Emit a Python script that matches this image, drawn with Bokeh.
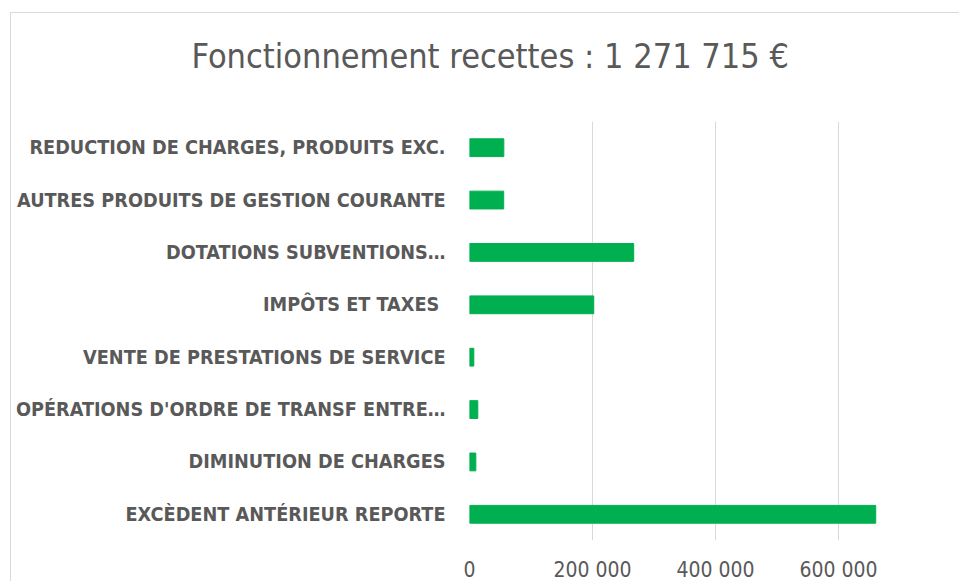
from bokeh.plotting import figure
from bokeh.models import ColumnDataSource, FixedTicker, Range1d, Title
from bokeh.embed import file_html
from bokeh.resources import INLINE

# data (top-to-bottom order as displayed)
categories = [
    "REDUCTION DE CHARGES, PRODUITS EXC.",
    "AUTRES PRODUITS DE GESTION COURANTE",
    "DOTATIONS SUBVENTIONS\u2026",
    "IMP\u00d4TS  ET TAXES",
    "VENTE DE PRESTATIONS DE SERVICE",
    "OP\u00c9RATIONS D'ORDRE DE TRANSF ENTRE\u2026",
    "DIMINUTION DE CHARGES",
    "EXC\u00c8DENT ANT\u00c9RIEUR REPORTE",
]
values = [55800, 55600, 267000, 202000, 7000, 13500, 10300, 660500]
x_ticks = [0, 200000, 400000, 600000]
x_tick_labels = ["0", "200 000", "400 000", "600 000"]
title_text = "Fonctionnement recettes :  1 271 715 \u20ac"

FONT = "DejaVu Sans Condensed, sans-serif"
GRAY = "#595959"

src = ColumnDataSource(dict(cat=categories, val=values))

p = figure(
    y_range=list(reversed(categories)),
    x_range=Range1d(0, 796700),
    frame_width=490, frame_height=419,
    output_backend="svg", toolbar_location=None,
    min_border_left=458, min_border_right=0,
    min_border_top=108, min_border_bottom=30,
)
p.margin = (12, 0, 0, 10)
p.hbar(y="cat", right="val", left=0, height=0.34, source=src,
       fill_color="#00b050", line_color="#00b050")

# spacer between plot area and title
p.add_layout(Title(text=" ", text_font_size="1px", standoff=43), "above")
p.add_layout(Title(
    text=title_text, align="left", offset=-278, vertical_align="bottom",
    text_font=FONT, text_font_style="normal", text_font_size="34px",
    text_color=GRAY, standoff=0,
), "above")

p.outline_line_color = None
p.background_fill_color = "white"
p.border_fill_color = "white"

p.xgrid.grid_line_color = "#d9d9d9"
p.ygrid.grid_line_color = None

p.xaxis.ticker = FixedTicker(ticks=x_ticks)
p.xaxis.major_label_overrides = {t: l for t, l in zip(x_ticks, x_tick_labels)}
p.xaxis.axis_line_color = None
p.xaxis.major_tick_line_color = None
p.xaxis.major_tick_out = 0
p.xaxis.minor_tick_line_color = None
p.xaxis.major_label_text_font = FONT
p.xaxis.major_label_text_font_size = "21px"
p.xaxis.major_label_text_color = GRAY
p.xaxis.major_label_standoff = 17

p.yaxis.axis_line_color = None
p.yaxis.major_tick_line_color = None
p.yaxis.major_tick_out = 0
p.yaxis.minor_tick_line_color = None
p.yaxis.major_label_text_font = FONT
p.yaxis.major_label_text_font_style = "bold"
p.yaxis.major_label_text_font_size = "19.7px"
p.yaxis.major_label_text_color = GRAY
p.yaxis.major_label_standoff = 24

p.styles = {"border-left": "1px solid #d9d9d9", "border-top": "1px solid #d9d9d9"}

open("out.html", "w").write(file_html(p, INLINE))
